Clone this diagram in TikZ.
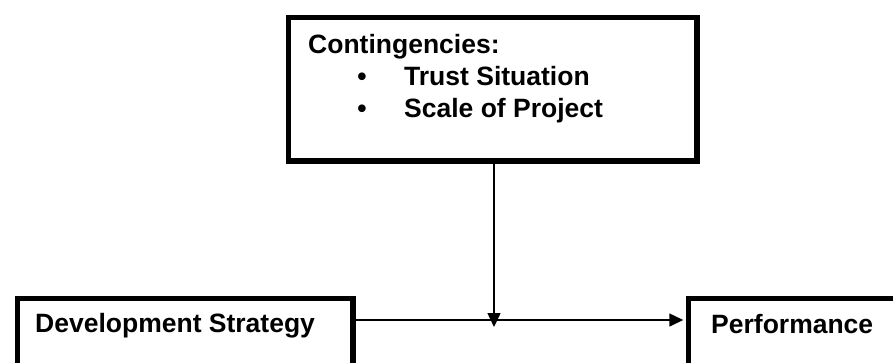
\documentclass[tikz,border=0pt]{standalone}
\usepackage{fontspec}
\setmainfont{Liberation Sans}
\usetikzlibrary{arrows.meta}

\tikzset{
    block/.style={draw, line width=5.5pt, rectangle, inner sep=0pt, anchor=north west},
    lbl/.style={inner sep=0pt, anchor=base west, font=\fontsize{26.5}{32}\selectfont\bfseries},
    link/.style={line width=1.5pt, -{Triangle[length=14pt, width=13pt]}}
}

\begin{document}
\begin{tikzpicture}[x=1pt, y=-1pt]
        \useasboundingbox (0, 0) rectangle (893, 362);
        \clip (0, 0) rectangle (893, 362);
        % the three boxes, the lower two run off the page
        \node[block, minimum width=408.5pt, minimum height=143.5pt] (cont) at (285.75, 14.75) {};
        \node[block, minimum width=335.5pt, minimum height=130pt] (dev) at (14.75, 295.75) {};
        \node[block, minimum width=300pt, minimum height=130pt] (perf) at (685.75, 295.75) {};
        % texts
        \node[lbl] (conttitle) at (308, 53) {Contingencies:};
        \node[lbl, anchor=base] (bullettrust) at (362, 85) {\textbullet};
        \node[lbl] (trust) at (404, 85) {Trust Situation};
        \node[lbl, anchor=base] (bulletscale) at (362, 117) {\textbullet};
        \node[lbl] (scale) at (404, 117) {Scale of Project};
        \node[lbl] (devlbl) at (35, 332) {Development Strategy};
        \node[lbl] (perflbl) at (711, 333) {Performance};
        % arrows
        \coordinate (join) at (494, 320);
        \coordinate (tip) at (494, 327);
        \draw[link, shorten >=2.5pt] (dev.east |- join) -- (perf.west |- join);
        \draw[link] (cont.south -| tip) -- (tip);
\end{tikzpicture}
\end{document}
